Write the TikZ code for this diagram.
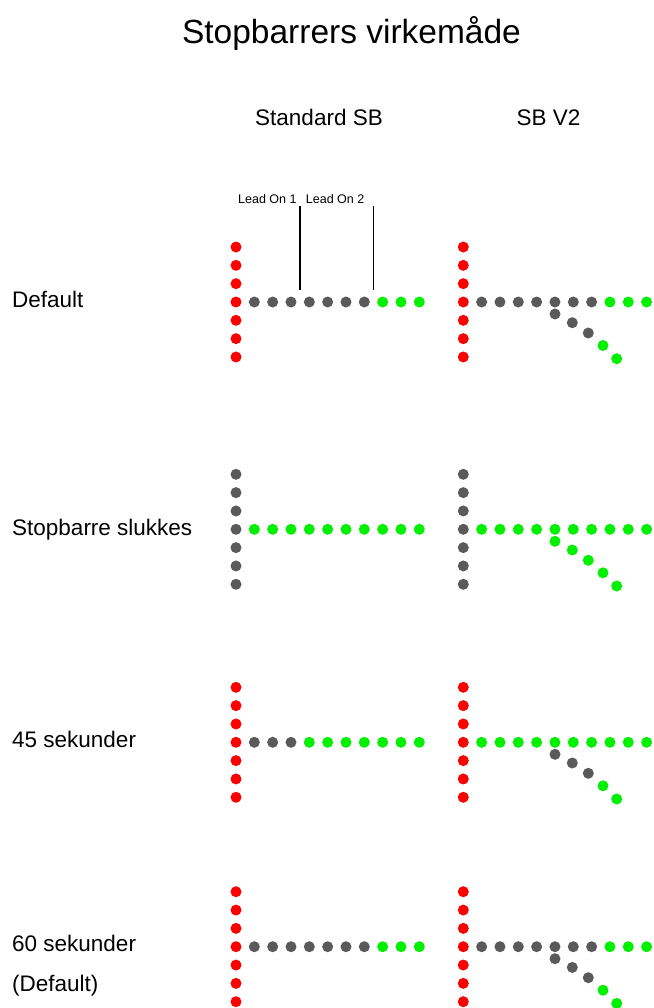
\documentclass[tikz,border=0pt]{standalone}
\usepackage{fontspec}
\setmainfont{Liberation Sans}
\definecolor{sbred}{RGB}{255,0,0}
\definecolor{sbgray}{RGB}{90,90,90}
\definecolor{sbgreen}{RGB}{0,240,0}

% one lamp of a stop bar / lead-on line
\newcommand{\lamp}[3]{\fill[#3] (#1,#2) circle[radius=5.5pt];}
% stop bar (7 lamps, vertical) and straight lead-on line (10 lamps)
% #1,#2 = centre of stop bar, #3 = stop bar colour, #4 = list of 10 colours
\newcommand{\sbpanel}[4]{%
  \foreach \k in {-3,...,3}{\lamp{#1}{#2+18.33*\k}{#3}}
  \foreach \c [count=\j] in {#4}{\lamp{#1+18.33*\j}{#2}{\c}}
}
% curved lead-on branch leaving at the 5th lamp
\newcommand{\sbbranch}[7]{%
  \lamp{#1+91.7}{#2+12}{#3}
  \lamp{#1+109}{#2+20.7}{#4}
  \lamp{#1+125}{#2+31}{#5}
  \lamp{#1+139.7}{#2+43.5}{#6}
  \lamp{#1+153.4}{#2+56.7}{#7}
}

\begin{document}
\begin{tikzpicture}[x=1pt,y=-1pt,
  rowlabel/.style={font=\fontsize{22.5}{26}\selectfont, inner sep=0pt, anchor=base west},
  header/.style={font=\fontsize{22.5}{26}\selectfont, inner sep=0pt, anchor=base},
  leadlabel/.style={font=\fontsize{12.5}{14}\selectfont, inner sep=0pt, anchor=base west},
  leadline/.style={line width=1.3pt}]
\useasboundingbox (0,0) rectangle (653,1008);
\fill[white] (0,0) rectangle (653,1008);

% title and column headers
\node[font=\fontsize{33.5}{40}\selectfont, inner sep=0pt, anchor=base] (title) at (351.5,44) {Stopbarrers virkemåde};
\node[header] (hstd) at (319,126) {Standard SB};
\node[header] (hv2) at (548.5,126) {SB V2};

% row labels
\node[rowlabel] (rdefault) at (12,307.5) {Default};
\node[rowlabel] (rslukkes) at (12,535.5) {Stopbarre slukkes};
\node[rowlabel] (r45) at (12,747) {45 sekunder};
\node[rowlabel] (r60) at (12,951.5) {60 sekunder};
\node[rowlabel] (r60b) at (12,991.5) {(Default)};

% lead-on markers
\node[leadlabel] (lead1) at (238,204) {Lead On 1};
\node[leadlabel] (lead2) at (305.7,204) {Lead On 2};
\coordinate (l1top) at (300,206.5);
\coordinate (l1bot) at (300,289.5);
\coordinate (l2top) at (373.3,206.5);
\coordinate (l2bot) at (373.3,289.5);
\draw[leadline] (l1top) -- (l1bot);
\draw[leadline] (l2top) -- (l2bot);

% Default
\sbpanel{236}{302}{sbred}{sbgray,sbgray,sbgray,sbgray,sbgray,sbgray,sbgray,sbgreen,sbgreen,sbgreen}
\sbpanel{463.3}{302}{sbred}{sbgray,sbgray,sbgray,sbgray,sbgray,sbgray,sbgray,sbgreen,sbgreen,sbgreen}
\sbbranch{463.3}{302}{sbgray}{sbgray}{sbgray}{sbgreen}{sbgreen}

% Stopbarre slukkes
\sbpanel{236}{529.3}{sbgray}{sbgreen,sbgreen,sbgreen,sbgreen,sbgreen,sbgreen,sbgreen,sbgreen,sbgreen,sbgreen}
\sbpanel{463.3}{529.3}{sbgray}{sbgreen,sbgreen,sbgreen,sbgreen,sbgreen,sbgreen,sbgreen,sbgreen,sbgreen,sbgreen}
\sbbranch{463.3}{529.3}{sbgreen}{sbgreen}{sbgreen}{sbgreen}{sbgreen}

% 45 sekunder
\sbpanel{236}{742.3}{sbred}{sbgray,sbgray,sbgray,sbgreen,sbgreen,sbgreen,sbgreen,sbgreen,sbgreen,sbgreen}
\sbpanel{463.3}{742.3}{sbred}{sbgreen,sbgreen,sbgreen,sbgreen,sbgreen,sbgreen,sbgreen,sbgreen,sbgreen,sbgreen}
\sbbranch{463.3}{742.3}{sbgray}{sbgray}{sbgray}{sbgreen}{sbgreen}

% 60 sekunder (Default)
\sbpanel{236}{946.7}{sbred}{sbgray,sbgray,sbgray,sbgray,sbgray,sbgray,sbgray,sbgreen,sbgreen,sbgreen}
\sbpanel{463.3}{946.7}{sbred}{sbgray,sbgray,sbgray,sbgray,sbgray,sbgray,sbgray,sbgreen,sbgreen,sbgreen}
\sbbranch{463.3}{946.7}{sbgray}{sbgray}{sbgray}{sbgreen}{sbgreen}
\end{tikzpicture}
\end{document}
